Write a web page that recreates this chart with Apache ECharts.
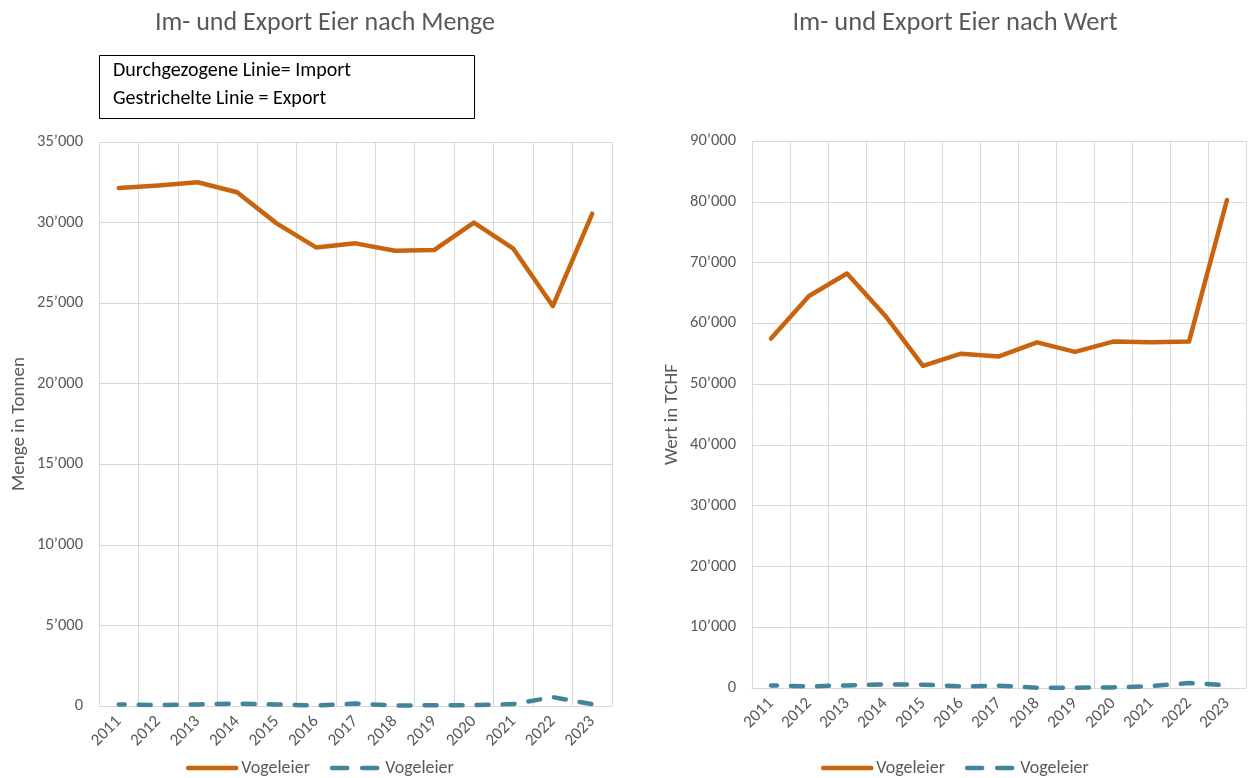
<!DOCTYPE html>
<html>
<head>
<meta charset="utf-8">
<script src="https://cdn.jsdelivr.net/npm/echarts@6/dist/echarts.min.js"></script>
<style>
  html, body { margin: 0; padding: 0; background: #fff; }
  #chart { width: 1248px; height: 778px; }
</style>
</head>
<body>
<div id="chart"></div>
<script>
// Years shown on both x axes
const years = ['2011','2012','2013','2014','2015','2016','2017','2018','2019','2020','2021','2022','2023'];

// Quantity in tonnes
const importMenge = [32150, 32300, 32500, 31880, 29950, 28460, 28710, 28250, 28300, 30000, 28380, 24820, 30550];
const exportMenge = [100, 50, 100, 150, 100, 30, 150, 30, 50, 50, 120, 550, 110];

// Value in TCHF
const importWert = [57500, 64500, 68200, 61300, 53000, 55000, 54550, 56870, 55300, 57000, 56870, 57000, 80300];
const exportWert = [430, 270, 430, 600, 550, 270, 380, 50, 50, 100, 300, 820, 430];

const titles = ['Im- und Export Eier nach Menge', 'Im- und Export Eier nach Wert'];
const yNames = ['Menge in Tonnen', 'Wert in TCHF'];
const legendLabel = 'Vogeleier';
const noteLines = ['Durchgezogene Linie= Import', 'Gestrichelte Linie = Export'];

const FONT = 'Carlito, Lato, "Open Sans", sans-serif';
const GREY = '#595959';
const ORANGE = '#C8640E';
const BLUE = '#41849C';

const fmt = v => String(v).replace(/\B(?=(\d{3})+(?!\d))/g, '\u2019');

const grids = [
  { left: 99, top: 142, width: 513, height: 564 },
  { left: 752, top: 141, width: 494, height: 547 }
];

function xAxis(i) {
  return {
    type: 'category', gridIndex: i, data: years, boundaryGap: true,
    axisLine: { show: true, lineStyle: { color: '#D9D9D9', width: 1 } },
    axisTick: { show: false },
    splitLine: { show: true, interval: 0, lineStyle: { color: '#D9D9D9', width: 1 } },
    axisLabel: { interval: 0, rotate: 45, color: GREY, fontFamily: FONT, fontSize: 17, margin: 13 }
  };
}
function yAxis(i, max, interval) {
  return {
    type: 'value', gridIndex: i, min: 0, max: max, interval: interval,
    name: yNames[i], nameLocation: 'middle', nameGap: 70,
    nameTextStyle: { color: GREY, fontFamily: FONT, fontSize: 19 },
    axisLine: { show: false }, axisTick: { show: false },
    splitLine: { show: true, lineStyle: { color: '#D9D9D9', width: 1 } },
    axisLabel: { color: GREY, fontFamily: FONT, fontSize: 16.5, margin: 16, formatter: fmt }
  };
}
function series(name, data, i, dashed) {
  return {
    name: name, type: 'line', xAxisIndex: i, yAxisIndex: i, data: data,
    symbol: 'none', smooth: false,
    lineStyle: dashed
      ? { color: BLUE, width: 4.5, type: [12, 14], dashOffset: 6, cap: 'round' }
      : { color: ORANGE, width: 4.5, cap: 'round', join: 'round' },
    itemStyle: { color: dashed ? BLUE : ORANGE }
  };
}
// Bottom legend: solid import line, then a two-dash export sample
function legend(importName, exportName, left) {
  return {
    data: [
      { name: importName },
      { name: exportName, lineStyle: { type: [15, 15], dashOffset: 0 } }
    ],
    left: left, top: 754, itemWidth: 48, itemHeight: 6, itemGap: 20,
    itemStyle: { opacity: 0 },
    lineStyle: { width: 4.5 },
    formatter: () => legendLabel,
    textStyle: { color: GREY, fontFamily: FONT, fontSize: 18 }
  };
}

const chart = echarts.init(document.getElementById('chart'), null, { renderer: 'canvas' });
chart.setOption({
  backgroundColor: '#fff',
  animation: false,
  title: [
    { text: titles[0], left: 320, top: 5, textAlign: 'center',
      textStyle: { color: GREY, fontFamily: FONT, fontSize: 26, fontWeight: 'normal' } },
    { text: titles[1], left: 950, top: 5, textAlign: 'center',
      textStyle: { color: GREY, fontFamily: FONT, fontSize: 26.5, fontWeight: 'normal' } }
  ],
  graphic: [
    { type: 'rect', shape: { x: 99.5, y: 55.5, width: 375, height: 63 },
      style: { fill: '#fff', stroke: '#000', lineWidth: 1 } },
    { type: 'text', left: 113, top: 61,
      style: { text: noteLines[0], fill: '#000', font: '20px ' + FONT } },
    { type: 'text', left: 113, top: 89,
      style: { text: noteLines[1], fill: '#000', font: '20px ' + FONT } }
  ],
  grid: grids,
  xAxis: [xAxis(0), xAxis(1)],
  yAxis: [yAxis(0, 35000, 5000), yAxis(1, 90000, 10000)],
  legend: [
    legend('Import Menge', 'Export Menge', 181),
    legend('Import Wert', 'Export Wert', 816)
  ],
  series: [
    series('Import Menge', importMenge, 0, false),
    series('Export Menge', exportMenge, 0, true),
    series('Import Wert', importWert, 1, false),
    series('Export Wert', exportWert, 1, true)
  ]
});
</script>
</body>
</html>
